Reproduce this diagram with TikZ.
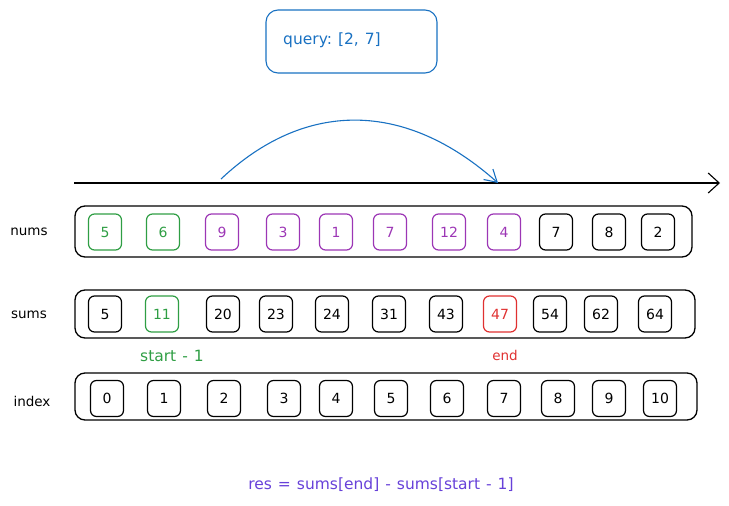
\documentclass[tikz,border=0pt]{standalone}
\usepackage{fontspec}
\setmainfont{DejaVu Sans}
\usetikzlibrary{arrows.meta}
\definecolor{cgreen}{HTML}{2F9E44}
\definecolor{cpurple}{HTML}{9C36B5}
\definecolor{cred}{HTML}{E03131}
\definecolor{cblue}{HTML}{1971C2}
\definecolor{cindigo}{HTML}{6741D9}
\tikzset{
  cell/.style={draw, rounded corners=6pt, minimum width=33pt, minimum height=36pt, line width=1.2pt, inner sep=0pt, font=\fontsize{14}{16}\selectfont},
  rowbox/.style={draw, rounded corners=10pt, line width=1.3pt, inner sep=0pt},
  lbl/.style={font=\fontsize{13.5}{15}\selectfont, inner sep=0pt},
  widelbl/.style={font=\fontsize{15.5}{18}\selectfont, inner sep=0pt},
}
\newcommand{\wsp}{\hspace{6pt}}
\begin{document}
\begin{tikzpicture}[x=1pt,y=-1pt]
\useasboundingbox (0,0) rectangle (729,506);
% query box
\node[draw=cblue, rounded corners=12pt, line width=1.1pt, minimum width=171pt, minimum height=63pt] (query) at (351.5,41.5) {};
\node[widelbl, text=cblue, anchor=west] (qtext) at (283,40) {query:\wsp[2,\wsp7]};
% axis
\coordinate (axL) at (74,183);
\coordinate (axR) at (720,183);
\draw[line width=1.4pt, -{Straight Barb[length=11pt,width=20pt,line width=1.1pt]}] (axL) -- (axR);
% arc
\coordinate (arcS) at (221,179);
\coordinate (arcE) at (498,183);
\draw[cblue, line width=1.1pt, -{Straight Barb[length=12pt,width=14pt]}] (arcS) .. controls (305,100) and (405,100) .. (arcE);
% row labels
\node[lbl] (lnums) at (29,232) {nums};
\node[lbl] (lsums) at (29,315) {sums};
\node[lbl] (lindex) at (32,401) {index};
% row boxes
\node[rowbox, minimum width=617pt, minimum height=51pt] (numsbox) at (383.5,231.5) {};
\node[rowbox, minimum width=620pt, minimum height=48pt] (sumsbox) at (385,314) {};
\node[rowbox, minimum width=622pt, minimum height=47pt] (indexbox) at (386,396.5) {};
% nums cells
\foreach \x/\v/\c [count=\i] in {105/5/cgreen,163/6/cgreen,222/9/cpurple,283/3/cpurple,336/1/cpurple,390/7/cpurple,449/12/cpurple,504/4/cpurple,556/7/black,609/8/black,658/2/black}
  \node[cell, draw=\c, text=\c] (n\i) at (\x,232) {\v};
% sums cells
\foreach \x/\v/\c [count=\i] in {105/5/black,162/11/cgreen,223/20/black,276/23/black,332/24/black,389/31/black,446/43/black,500/47/cred,550/54/black,601/62/black,655/64/black}
  \node[cell, draw=\c, text=\c] (s\i) at (\x,314) {\v};
% index cells
\foreach \x/\v [count=\i] in {107/0,164/1,224/2,284/3,336/4,391/5,447/6,504/7,558/8,609/9,660/10}
  \node[cell] (x\i) at (\x,398.5) {\v};
% labels
\node[widelbl, text=cgreen] (lstart) at (172,356) {start\wsp-\wsp1};
\node[lbl, text=cred] (lend) at (505,355) {end};
\node[widelbl, text=cindigo] (res) at (381,485) {res\wsp=\wsp sums[end]\wsp-\wsp sums[start\wsp-\wsp1]};
\end{tikzpicture}
\end{document}
